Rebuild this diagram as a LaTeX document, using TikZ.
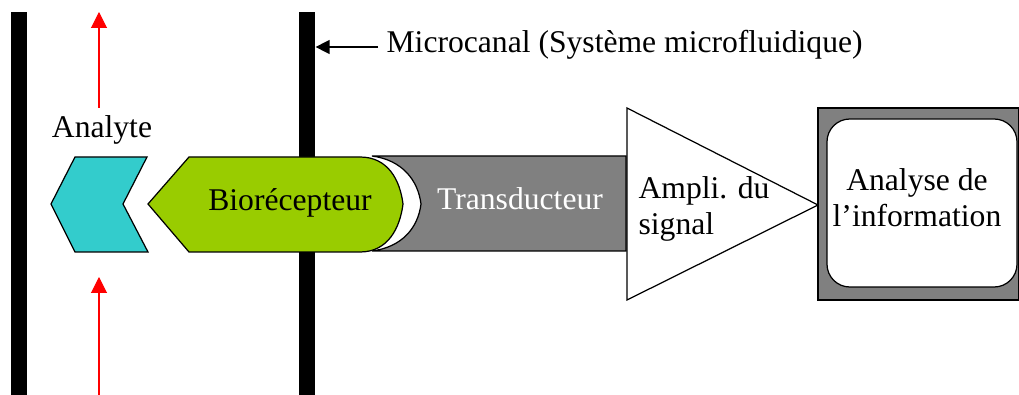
\documentclass[tikz,border=0pt]{standalone}
\usepackage{fontspec}
\setmainfont{Liberation Serif}
\usetikzlibrary{arrows.meta}
\definecolor{analytecol}{HTML}{33CCCC}
\definecolor{receptcol}{HTML}{99CC00}
\definecolor{transcol}{HTML}{808080}
\begin{document}
\begin{tikzpicture}[x=0.02cm, y=-0.02cm, line width=0.7pt,
  every node/.style={align=center, inner sep=0pt, font=\fontsize{18}{21}\selectfont},
  wall/.style={fill=black, minimum width=0.32cm, minimum height=7.66cm},
  flow/.style={red, line width=0.6pt, -{Triangle[length=0.32cm, width=0.32cm]}},
  pointer/.style={black, line width=0.7pt, -{Triangle[length=0.28cm, width=0.28cm]}}]
\useasboundingbox (0,0) rectangle (1019,395);

% channel walls
\node[wall] (wallL) at (19,203.5) {};
\node[wall] (chan) at (307,203.5) {};

% analyte flow
\coordinate (flowAtail) at (99,108);
\coordinate (flowAtip) at (99,12);
\coordinate (flowBtail) at (99,395);
\coordinate (flowBtip) at (99,277);
\draw[flow] (flowAtail) -- (flowAtip);
\draw[flow] (flowBtail) -- (flowBtip);
\node[anchor=base] (analyte) at (102,138) {Analyte};
\draw[fill=analytecol] (75,157) -- (147,157) -- (123,204) -- (148,252) -- (75,252) -- (51,204) -- cycle;

% sensor chain
\draw[fill=transcol] (372,156) -- (626,156) -- (626,251) -- (372,251)
  .. controls (402,247) and (418,228) .. (421,204)
  .. controls (418,180) and (402,160) .. (372,156) -- cycle;
\draw[fill=receptcol] (148,204) -- (189,157) -- (360,157)
  .. controls (388,157) and (400,180) .. (403,204)
  .. controls (400,228) and (388,252) .. (360,252) -- (189,252) -- cycle;
\node[anchor=base] (recept) at (290,211) {Biorécepteur};
\node[anchor=base, text=white] (trans) at (520,210) {Transducteur};
\draw[fill=white] (627,108) -- (818,205) -- (627,300) -- cycle;
\node[anchor=base west, align=left] (ampli) at (638,235) {Ampli. du\\signal};
\draw[fill=transcol] (818,108) rectangle (1019,300);
\draw[fill=white, rounded corners=13pt] (827,119) rectangle (1017,287);
\node[anchor=base] (info) at (917,227) {Analyse de\\l’information};

% microcanal label
\node[anchor=base west] (canal) at (386,53) {Microcanal (Système microfluidique)};
\coordinate (canaltail) at (378,47);
\draw[pointer] (canaltail) -- (canaltail -| chan.east);
\end{tikzpicture}
\end{document}
